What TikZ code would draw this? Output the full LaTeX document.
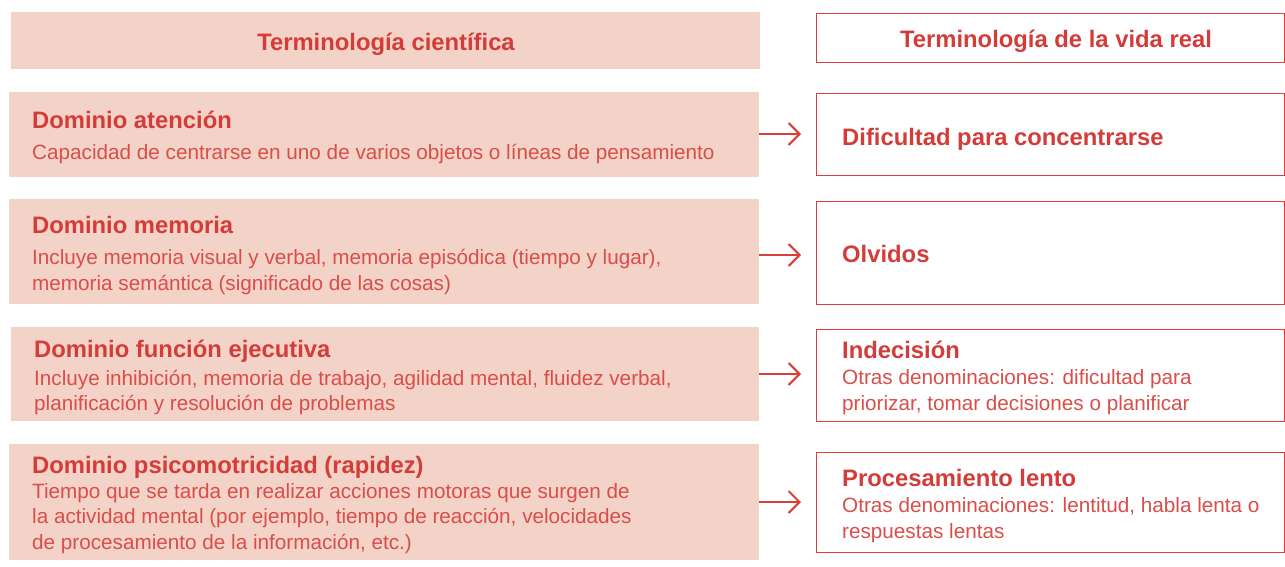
\documentclass[tikz,border=0pt]{standalone}
\usepackage{fontspec}
\setmainfont{Liberation Sans}
\usetikzlibrary{arrows.meta}
\definecolor{pinkfill}{RGB}{243,210,199}
\definecolor{redtxt}{RGB}{212,60,58}
\definecolor{redlight}{RGB}{218,78,74}
\definecolor{redline}{RGB}{220,62,60}
\tikzset{
  lbox/.style={fill=pinkfill, draw=none, anchor=north west, inner sep=0pt},
  rbox/.style={draw=redline, line width=1.3pt, fill=white, anchor=north west, inner sep=0pt},
  htext/.style={text=redtxt, font=\fontsize{23.8}{28}\selectfont\bfseries, inner sep=0pt},
  ttl/.style={text=redtxt, font=\fontsize{23.8}{28}\selectfont\bfseries, inner sep=0pt, anchor=base west},
  bdy/.style={text=redlight, font=\fontsize{20.7}{25.7}\selectfont, inner sep=0pt, align=left, anchor=base west},
  conn/.style={draw=redline, line width=2pt, -{Straight Barb[length=11pt,width=22pt,line width=2pt]}}
}
\begin{document}
\begin{tikzpicture}[x=1pt,y=-1pt]
\useasboundingbox (0,0) rectangle (1285,566);
% left boxes
\node[lbox, minimum width=749pt, minimum height=57pt] (lh) at (11,12) {};
\node[lbox, minimum width=750pt, minimum height=85pt] (l1) at (9,92) {};
\node[lbox, minimum width=750pt, minimum height=105pt] (l2) at (9,199) {};
\node[lbox, minimum width=748pt, minimum height=94pt] (l3) at (11,327) {};
\node[lbox, minimum width=750pt, minimum height=116pt] (l4) at (9,444) {};
% right boxes
\node[rbox, minimum width=468pt, minimum height=49pt] (rh) at (816,13) {};
\node[rbox, minimum width=468pt, minimum height=82pt] (r1) at (816,93) {};
\node[rbox, minimum width=468pt, minimum height=103pt] (r2) at (816,201) {};
\node[rbox, minimum width=468pt, minimum height=92pt] (r3) at (816,329) {};
\node[rbox, minimum width=468pt, minimum height=100pt] (r4) at (816,452) {};
% headers
\node[htext, anchor=base] (lht) at (386,50) {Terminología científica};
\node[htext, anchor=base] (rht) at (1056,47) {Terminología de la vida real};
% left texts
\node[ttl] (t1) at (32,128) {Dominio atención};
\node[bdy] (b1) at (32,159) {Capacidad de centrarse en uno de varios objetos o líneas de pensamiento};
\node[ttl] (t2) at (32,233) {Dominio memoria};
\node[bdy] (b2) at (32,290.5) {Incluye memoria visual y verbal, memoria episódica (tiempo y lugar),\\memoria semántica (significado de las cosas)};
\node[ttl] (t3) at (34,357) {Dominio función ejecutiva};
\node[bdy] (b3) at (34,410.7) {Incluye inhibición, memoria de trabajo, agilidad mental, fluidez verbal,\\planificación y resolución de problemas};
\node[ttl] (t4) at (32,473) {Dominio psicomotricidad (rapidez)};
\node[bdy] (b4) at (32,549.4) {Tiempo que se tarda en realizar acciones motoras que surgen de\\la actividad mental (por ejemplo, tiempo de reacción, velocidades\\de procesamiento de la información, etc.)};
% right texts
\node[ttl] (s1) at (842,145) {Dificultad para concentrarse};
\node[ttl] (s2) at (842,262) {Olvidos};
\node[ttl] (s3) at (842,358) {Indecisión};
\node[bdy] (c3) at (842,410.5) {Otras denominaciones: dificultad para\\priorizar, tomar decisiones o planificar};
\node[ttl] (s4) at (842,486) {Procesamiento lento};
\node[bdy] (c4) at (842,538) {Otras denominaciones: lentitud, habla lenta o\\respuestas lentas};
% connectors
\coordinate (a1) at (801,134);
\coordinate (a2) at (801,255);
\coordinate (a3) at (801,374);
\coordinate (a4) at (801,502);
\draw[conn] (l1.east |- a1) -- (a1);
\draw[conn] (l2.east |- a2) -- (a2);
\draw[conn] (l3.east |- a3) -- (a3);
\draw[conn] (l4.east |- a4) -- (a4);
\end{tikzpicture}
\end{document}
